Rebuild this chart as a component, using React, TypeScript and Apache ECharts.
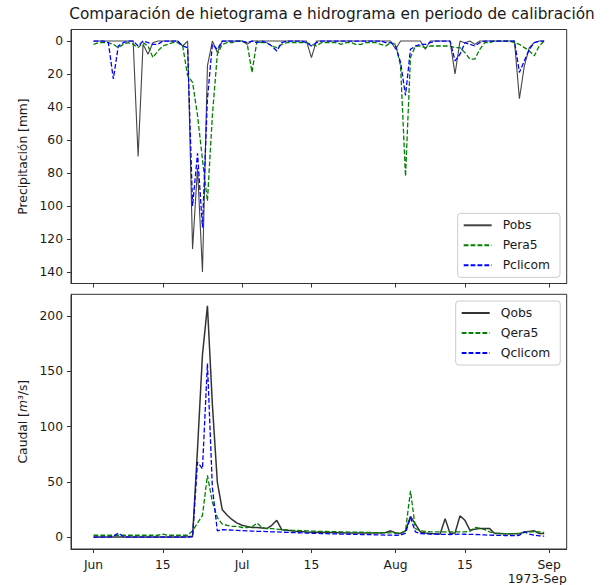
import React, { useEffect, useRef } from 'react';
import * as echarts from 'echarts';

// Day offsets from 1973-06-01 (Jun 1 .. Aug 31)
const tickDays = [0, 14, 30, 44, 61, 75, 92];
const tickLabels = ['Jun', '15', 'Jul', '15', 'Aug', '15', 'Sep'];
const pTicks = [0, 20, 40, 60, 80, 100, 120, 140];
const qTicks = [0, 50, 100, 150, 200];

const Pobs = [
  0, 0, 0, 0, 0, 0, 0, 0, 0, 70,
  2, 8, 1, 0, 0, 0, 0, 0, 3, 0,
  126, 77, 140, 15, 0, 7, 0, 0, 0, 0,
  0, 2, 0, 0, 0, 0, 0, 0, 0, 0,
  0, 0, 0, 0, 10, 0, 0, 0, 0, 0,
  0, 0, 0, 0, 0, 0, 0, 0, 0, 0,
  0, 5, 0, 0, 0, 0, 0, 5, 0, 0,
  0, 0, 0, 20, 0, 1, 0, 2, 0, 0,
  0, 0, 0, 0, 0, 0, 35, 15, 4, 1,
  0, 0,
];
const Pera5 = [
  2, 1, 1, 1, 2, 4, 2, 1, 2, 4,
  1, 3, 10, 6, 3, 2, 1, 1, 3, 21,
  25, 45, 72, 97, 45, 8, 2, 1, 1, 0,
  0, 1, 19, 0, 1, 1, 3, 4, 2, 1,
  1, 1, 1, 1, 2, 3, 1, 1, 1, 1,
  2, 1, 1, 2, 2, 1, 1, 1, 2, 3,
  1, 2, 15, 82, 10, 3, 3, 4, 3, 3,
  3, 3, 3, 4, 4, 7, 11, 11, 5, 1,
  1, 0, 0, 0, 0, 1, 2, 4, 6, 9,
  3, 0,
];
const Pclicom = [
  0, 0, 0, 1, 23, 3, 1, 0, 0, 3,
  0, 1, 2, 2, 0, 0, 0, 0, 3, 4,
  100, 68, 113, 35, 2, 5, 0, 0, 0, 0,
  0, 1, 0, 1, 0, 1, 3, 6, 1, 0,
  0, 0, 0, 1, 3, 1, 0, 0, 0, 0,
  0, 0, 0, 0, 0, 0, 0, 0, 0, 1,
  1, 3, 13, 33, 5, 3, 2, 2, 1, 0,
  0, 0, 0, 12, 8, 1, 2, 3, 1, 0,
  0, 0, 0, 0, 0, 0, 19, 12, 5, 1,
  0, 0,
];
const Qobs = [
  0.5, 0.5, 0.5, 0.5, 0.5, 0.5, 0.5, 0.5, 0.5, 0.5,
  0.5, 0.5, 0.5, 0.5, 0.5, 0.5, 0.5, 0.5, 0.5, 0.6,
  1, 80, 165, 209, 120, 50, 25, 20, 16, 13,
  11, 10, 9, 9, 8.5, 8, 11, 15.5, 7, 6.5,
  6, 5.5, 5.3, 5, 4.8, 4.7, 4.6, 4.5, 4.4, 4.3,
  4.2, 4.1, 4, 4, 4, 4, 4, 4, 4, 4.5,
  6, 4, 3.5, 6, 19, 12, 5, 4, 3.5, 3.3,
  3.2, 17, 3.5, 4, 19.5, 15.5, 6.6, 7.5, 8, 8,
  8, 3.6, 3.5, 3.3, 3.2, 3.3, 3.5, 5, 5.5, 6,
  3.6, 3.6,
];
const Qera5 = [
  2, 2, 2, 2, 2, 2, 2, 2, 2, 2,
  2, 2, 2, 2, 3, 2, 2, 2, 2, 2,
  6, 13, 20, 56, 32, 18, 12, 11, 10, 10,
  9, 9, 9.5, 13, 9, 8, 8, 7.5, 7, 6.8,
  6.5, 6.3, 6.1, 6, 5.8, 5.6, 5.5, 5.4, 5.3, 5.2,
  5.1, 5, 4.9, 4.8, 4.7, 4.6, 4.5, 4.4, 4.3, 4.2,
  4.1, 4, 4, 6, 42, 8, 6, 5.5, 5, 5,
  5, 5, 5, 5, 5, 5, 5.5, 9, 8.4, 7,
  5, 4, 3.6, 3.5, 3.5, 3.5, 3.5, 4.5, 5, 5,
  5, 4.5,
];
const Qclicom = [
  0.3, 0.3, 0.3, 0.3, 1, 4, 0.8, 0.3, 0.3, 0.3,
  0.3, 0.3, 0.3, 0.3, 0.3, 0.3, 0.3, 0.3, 0.3, 0.3,
  0.6, 68, 62, 157, 45, 6, 7, 6.8, 6.6, 6.4,
  6.2, 6, 5.8, 5.6, 5.5, 5.3, 5.1, 5, 4.8, 4.6,
  4.5, 4.3, 4.1, 4, 3.8, 3.7, 3.5, 3.4, 3.3, 3.2,
  3.1, 3, 2.9, 2.8, 2.7, 2.6, 2.5, 2.4, 2.3, 2.2,
  2.1, 2, 2.2, 4, 18, 5, 3.6, 3.3, 3.1, 3,
  2.9, 2.8, 2.7, 2.8, 3, 2.9, 2.8, 2.7, 2.5, 2.3,
  2.1, 2, 1.9, 1.8, 1.7, 1.6, 2, 5, 3, 2,
  1.5, 1.2,
];

const FONT = 'DejaVu Sans';
const TXT = '#1a1a1a';
const FS = 12.3;
const DASH = [4.8, 2.1];

const toPts = (arr: number[]) => arr.map((v, i) => [i, v]);

function xAxisCfg(gridIndex: number, showLabels: boolean) {
  return {
    type: 'value',
    gridIndex,
    min: -4.55,
    max: 95.55,
    axisLine: { show: true, onZero: false, lineStyle: { color: '#333', width: 1 } },
    splitLine: { show: false },
    axisTick: { show: true, length: 4, lineStyle: { color: '#333', width: 1 }, customValues: tickDays },
    axisLabel: {
      show: showLabels,
      customValues: tickDays,
      formatter: (v: number) => {
        const i = tickDays.indexOf(Math.round(v));
        return i >= 0 ? tickLabels[i] : '';
      },
      fontSize: FS,
      color: TXT,
      fontFamily: FONT,
      margin: 9.5,
    },
  };
}

export default function App() {
  const ref = useRef<HTMLDivElement>(null);
  useEffect(() => {
    const chart = echarts.init(ref.current!, null, { renderer: 'svg' });
    const lineSeries = (name: string, data: number[], xi: number, color: string, width: number, dashed: boolean) => ({
      name,
      type: 'line',
      xAxisIndex: xi,
      yAxisIndex: xi,
      data: toPts(data),
      symbol: 'none',
      showSymbol: false,
      smooth: false,
      lineStyle: { color, width, type: dashed ? DASH : 'solid' },
      itemStyle: { color },
      emphasis: { disabled: true },
    });
    const legendCfg = (names: string[], left: number, top: number) => ({
      data: names,
      orient: 'vertical',
      left,
      top,
      itemWidth: 28,
      itemHeight: 14,
      itemGap: 6,
      padding: [5, 10, 5, 5],
      borderColor: '#cccccc',
      borderWidth: 1,
      borderRadius: 3,
      backgroundColor: 'rgba(255,255,255,0.8)',
      selectedMode: false,
      itemStyle: { color: 'rgba(0,0,0,0)', borderColor: 'rgba(0,0,0,0)', borderWidth: 0, opacity: 0 },
      textStyle: { fontSize: FS, color: TXT, fontFamily: FONT, lineHeight: 14, padding: [0, 0, 0, 6] },
    });
    const option: any = {
      animation: false,
      backgroundColor: '#ffffff',
      textStyle: { fontFamily: FONT },
      grid: [
        { left: 71, top: 29.5, width: 495.7, height: 254, show: true, borderColor: '#333', borderWidth: 1, containLabel: false },
        { left: 71, top: 294.3, width: 495.7, height: 254.7, show: true, borderColor: '#333', borderWidth: 1, containLabel: false },
      ],
      xAxis: [xAxisCfg(0, false), xAxisCfg(1, true)],
      yAxis: [
        {
          type: 'value',
          gridIndex: 0,
          inverse: true,
          min: -7,
          max: 147,
          axisLine: { show: true, onZero: false, lineStyle: { color: '#333', width: 1 } },
          splitLine: { show: false },
          axisTick: { show: true, length: 4, lineStyle: { color: '#333' }, customValues: pTicks },
          axisLabel: { customValues: pTicks, fontSize: FS, color: TXT, fontFamily: FONT, margin: 8 },
          name: 'Precipitación [mm]',
          nameLocation: 'middle',
          nameRotate: 90,
          nameGap: 41,
          nameTextStyle: { fontSize: FS, color: TXT, fontFamily: FONT },
        },
        {
          type: 'value',
          gridIndex: 1,
          min: -10.4,
          max: 219.4,
          axisLine: { show: true, onZero: false, lineStyle: { color: '#333', width: 1 } },
          splitLine: { show: false },
          axisTick: { show: true, length: 4, lineStyle: { color: '#333' }, customValues: qTicks },
          axisLabel: { customValues: qTicks, fontSize: FS, color: TXT, fontFamily: FONT, margin: 8 },
          name: 'Caudal [{i|m}³/s]',
          nameLocation: 'middle',
          nameRotate: 90,
          nameGap: 41,
          nameTextStyle: {
            fontSize: FS,
            color: TXT,
            fontFamily: FONT,
            rich: { i: { fontStyle: 'italic', fontSize: FS, color: TXT, fontFamily: FONT } },
          },
        },
      ],
      legend: [
        legendCfg(['Pobs', 'Pera5', 'Pclicom'], 457.7, 213.3),
        legendCfg(['Qobs', 'Qera5', 'Qclicom'], 455.7, 301),
      ],
      graphic: [
        {
          type: 'text',
          x: 332,
          y: 14,
          style: { text: 'Comparación de hietograma e hidrograma en periodo de calibración', fontSize: 15.3, fill: TXT, fontFamily: FONT, align: 'center', verticalAlign: 'middle' },
        },
        {
          type: 'text',
          x: 566.7,
          y: 572.5,
          style: { text: '1973-Sep', fontSize: FS, fill: TXT, fontFamily: FONT, align: 'right', verticalAlign: 'top' },
        },
      ],
      series: [
        lineSeries('Pobs', Pobs, 0, '#444444', 1.1, false),
        lineSeries('Pera5', Pera5, 0, '#008000', 1.3, true),
        lineSeries('Pclicom', Pclicom, 0, '#0000ff', 1.3, true),
        lineSeries('Qobs', Qobs, 1, '#333333', 1.5, false),
        lineSeries('Qera5', Qera5, 1, '#008000', 1.3, true),
        lineSeries('Qclicom', Qclicom, 1, '#0000ff', 1.3, true),
      ],
    };
    chart.setOption(option);
    return () => chart.dispose();
  }, []);
  return <div ref={ref} style={{ position: 'fixed', left: 0, top: 0, width: 614, height: 585 }} />;
}
